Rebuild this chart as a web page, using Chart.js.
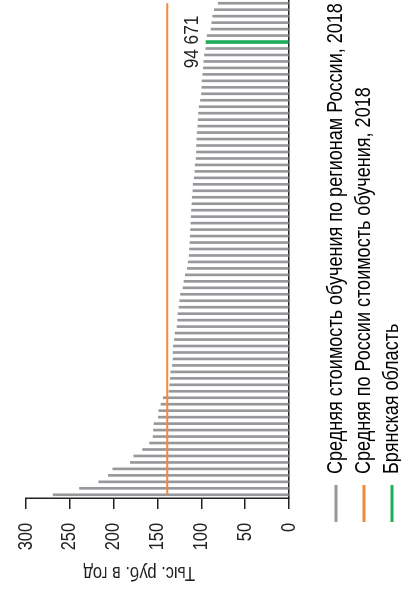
<!DOCTYPE html>
<html><head><meta charset="utf-8">
<script src="https://cdn.jsdelivr.net/npm/chart.js@4.4.1/dist/chart.umd.min.js"></script>
<style>
html,body{margin:0;padding:0;background:#fff;overflow:hidden;width:401px;height:592px;}
#wrap{position:absolute;left:0;top:0;width:592px;height:401px;transform-origin:0 0;transform:translateY(592px) rotate(-90deg);background:#fff;}
canvas{display:block;}
</style></head><body>
<div id="wrap"><canvas id="c" width="592" height="401"></canvas></div>
<script>
const categories = ['1','2','3','4','5','6','7','8','9','10','11','12','13','14','15','16','17','18','19','20',
'21','22','23','24','25','26','27','28','29','30','31','32','33','34','35','36','37','38','39','40',
'41','42','43','44','45','46','47','48','49','50','51','52','53','54','55','56','57','58','59','60',
'61','62','63','64','65','66','67','68','69','70','71','72','73','74','75','76','77'];
const regionValues = [269, 239, 217, 206, 201, 181, 177, 167, 159, 155,
154.5, 154, 149, 148.5, 146, 143.5, 137, 136, 135.3, 134.9,
133, 132.2, 132.2, 131.9, 130.7, 130, 127.7, 127, 126.6, 125.4,
124.7, 123.8, 120.9, 119.8, 118.3, 116, 114.9, 113.8, 113.4, 113,
112.7, 112.3, 111.9, 111.5, 111.2, 110.7, 110.4, 109.6, 109.3, 108.1,
107.3, 107, 105.9, 105.5, 105.5, 105.1, 104.7, 104, 103.6, 103.2,
102.5, 101, 99.8, 99.4, 99.1, 98.3, 97.6, 97.2, 96.4, 94.9,
94.671, 93.4, 88.9, 88.1, 87, 85.2, 80.7];
const bryanskIndex = 70;
const bryanskLabel = '94 671';
const russiaAverage = 139;
const valueTicks = [0, 50, 100, 150, 200, 250, 300];
const axisTitle = 'Тыс. руб. в год';
const legendLabels = ['Средняя стоимость обучения по регионам России, 2018',
  'Средняя по России стоимость обучения, 2018',
  'Брянская область'];

const GRAY = '#98989c', ORANGE = '#f28a3b', GREEN = '#1fae5b', INK = '#222222';
const FONT = "'Liberation Sans', Arial, sans-serif";
Chart.defaults.font.family = FONT;
Chart.defaults.font.size = 20;
Chart.defaults.color = INK;

// narrow (condensed) text rendering: horizontally compressed real text
const cv = document.getElementById('c');
const ctx2d = cv.getContext('2d');
const SX = 0.82;
const origFill = ctx2d.fillText.bind(ctx2d);
const origMeasure = ctx2d.measureText.bind(ctx2d);
ctx2d.fillText = function (t, x, y, mw) {
  this.save();
  this.translate(x, y);
  this.scale(SX, 1);
  if (mw !== undefined && mw !== null) origFill(t, 0, 0, mw / SX); else origFill(t, 0, 0);
  this.restore();
};
ctx2d.measureText = function (t) {
  const m = origMeasure(t);
  return {
    width: m.width * SX,
    actualBoundingBoxAscent: m.actualBoundingBoxAscent,
    actualBoundingBoxDescent: m.actualBoundingBoxDescent,
    actualBoundingBoxLeft: m.actualBoundingBoxLeft * SX,
    actualBoundingBoxRight: m.actualBoundingBoxRight * SX,
    fontBoundingBoxAscent: m.fontBoundingBoxAscent,
    fontBoundingBoxDescent: m.fontBoundingBoxDescent
  };
};

const labelPlugin = {
  id: 'bryanskLabel',
  afterDatasetsDraw(chart) {
    const meta = chart.getDatasetMeta(2);
    const el = meta.data[bryanskIndex];
    if (!el) return;
    const ctx = chart.ctx;
    ctx.save();
    ctx.font = '21px ' + FONT;
    ctx.fillStyle = INK;
    ctx.textAlign = 'center';
    ctx.textBaseline = 'alphabetic';
    ctx.fillText(bryanskLabel, el.x, el.y - 8);
    ctx.restore();
  }
};
const legendShift = {
  id: 'legendShift',
  afterLayout(chart) {
    const lg = chart.legend;
    const h = lg.height, w = lg.width;
    lg.left = 64; lg.right = 64 + w;
    lg.top = 319; lg.bottom = 319 + h;
  }
};

new Chart(ctx2d, {
  data: {
    labels: categories,
    datasets: [
      { type: 'bar', label: legendLabels[0], order: 2, grouped: false,
        data: regionValues.map((v, i) => i === bryanskIndex ? null : v),
        backgroundColor: GRAY, barThickness: 2 },
      { type: 'line', label: legendLabels[1], order: 0,
        data: [{x: categories[0], y: russiaAverage}, {x: categories[categories.length - 1], y: russiaAverage}],
        borderColor: ORANGE, backgroundColor: ORANGE, borderWidth: 2, pointRadius: 0, tension: 0 },
      { type: 'bar', label: legendLabels[2], order: 1, grouped: false,
        data: regionValues.map((v, i) => i === bryanskIndex ? v : null),
        backgroundColor: GREEN, barThickness: 3 }
    ]
  },
  options: {
    responsive: false,
    animation: false,
    layout: { padding: { top: 24, left: 0, right: 0, bottom: 0 } },
    plugins: {
      tooltip: { enabled: false },
      legend: {
        position: 'bottom', align: 'start',
        labels: {
          boxWidth: 37, boxHeight: 3, padding: 6, color: INK,
          font: { size: 22, family: FONT },
          generateLabels: () => [
            { text: legendLabels[0], fillStyle: GRAY, strokeStyle: GRAY, lineWidth: 0, hidden: false, datasetIndex: 0 },
            { text: legendLabels[1], fillStyle: ORANGE, strokeStyle: ORANGE, lineWidth: 0, hidden: false, datasetIndex: 1 },
            { text: legendLabels[2], fillStyle: GREEN, strokeStyle: GREEN, lineWidth: 0, hidden: false, datasetIndex: 2 }
          ]
        }
      }
    },
    scales: {
      x: {
        type: 'category', offset: true,
        grid: { display: false },
        ticks: { display: false },
        border: { display: true, color: INK, width: 1.5 },
        afterFit: s => { s.height = 18; }
      },
      y: {
        min: 0, max: 300,
        afterBuildTicks: s => { s.ticks = valueTicks.map(v => ({ value: v })); },
        grid: { drawOnChartArea: false, drawTicks: true, tickLength: 11, color: INK, lineWidth: 1.5 },
        border: { display: true, color: INK, width: 1.5 },
        ticks: { padding: 14, color: INK, font: { size: 20, family: FONT } },
        title: { display: true, text: '        ' + axisTitle, color: INK, font: { size: 20, family: FONT }, padding: { top: 7, bottom: 0 } },
        afterFit: s => { s.width = 94; }
      }
    }
  },
  plugins: [labelPlugin, legendShift]
});
</script>
</body></html>
